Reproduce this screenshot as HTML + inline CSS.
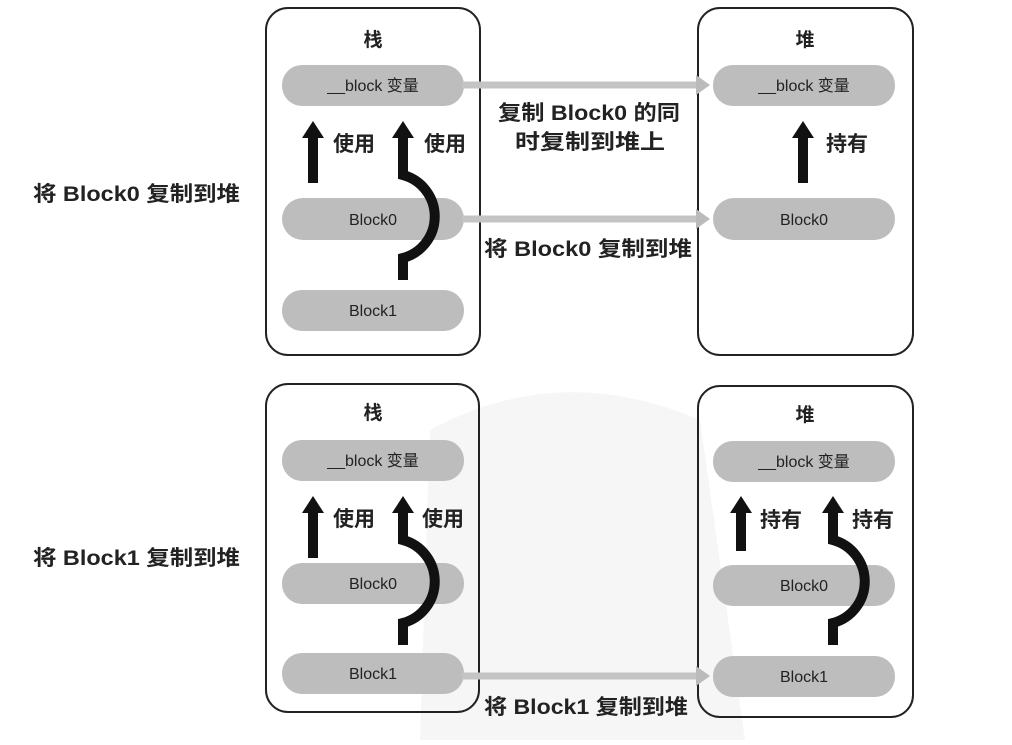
<!DOCTYPE html>
<html><head><meta charset="utf-8"><style>
body{margin:0;background:#fff}
svg text{font-family:"Liberation Sans","Noto Sans CJK SC",sans-serif;fill:#222}
</style></head><body>
<svg width="1012" height="740" viewBox="0 0 1012 740" xmlns="http://www.w3.org/2000/svg">
<defs>
<marker id="g" markerUnits="userSpaceOnUse" markerWidth="16" markerHeight="20" refX="2" refY="10" orient="auto"><path d="M0,0 L14,10 L0,20z" fill="#bbb"/></marker>
</defs>
<path d="M430,430 Q560,360 700,420 L745,740 L420,740 Z" fill="#f6f6f6"/>
<g fill="none" stroke="#222" stroke-width="2">
<rect x="266" y="8" width="214" height="347" rx="22"/>
<rect x="698" y="8" width="215" height="347" rx="22"/>
<rect x="266" y="384" width="213" height="328" rx="22"/>
<rect x="698" y="386" width="215" height="331" rx="22"/>
</g>
<g fill="#bdbdbd">
<rect x="282" y="65" width="182" height="41" rx="20"/>
<rect x="282" y="198" width="182" height="42" rx="21"/>
<rect x="282" y="290" width="182" height="41" rx="20"/>
<rect x="713" y="65" width="182" height="41" rx="20"/>
<rect x="713" y="198" width="182" height="42" rx="21"/>
<rect x="282" y="440" width="182" height="41" rx="20"/>
<rect x="282" y="563" width="182" height="41" rx="20"/>
<rect x="282" y="653" width="182" height="41" rx="20"/>
<rect x="713" y="441" width="182" height="41" rx="20"/>
<rect x="713" y="565" width="182" height="41" rx="20"/>
<rect x="713" y="656" width="182" height="41" rx="20"/>
</g>
<g stroke="#c4c4c4" stroke-width="7" fill="none" marker-end="url(#g)">
<line x1="462" y1="85" x2="698" y2="85"/>
<line x1="462" y1="219" x2="698" y2="219"/>
<line x1="462" y1="676" x2="698" y2="676"/>
</g>
<g font-size="16" text-anchor="middle" fill="#333">
<text x="373" y="91">__block 变量</text><text x="373" y="225">Block0</text><text x="373" y="316">Block1</text>
<text x="804" y="91">__block 变量</text><text x="804" y="225">Block0</text>
<text x="373" y="466">__block 变量</text><text x="373" y="589">Block0</text><text x="373" y="679">Block1</text>
<text x="804" y="467">__block 变量</text><text x="804" y="591">Block0</text><text x="804" y="682">Block1</text>
</g>
<g font-size="19" font-weight="bold" text-anchor="middle">
<text x="373" y="46">栈</text><text x="805" y="46">堆</text>
<text x="373" y="419">栈</text><text x="805" y="421">堆</text>
</g>
<g font-size="21" font-weight="bold">
<text x="333" y="151">使用</text><text x="424" y="151">使用</text>
<text x="333" y="526">使用</text><text x="422" y="526">使用</text>
<text x="826" y="151">持有</text>
<text x="760" y="527">持有</text><text x="852" y="527">持有</text>
<text x="498" y="120" textLength="182" lengthAdjust="spacingAndGlyphs">复制 Block0 的同</text>
<text x="515" y="149" textLength="150" lengthAdjust="spacingAndGlyphs">时复制到堆上</text>
<text x="484" y="256" textLength="208" lengthAdjust="spacingAndGlyphs">将 Block0 复制到堆</text>
<text x="484" y="714" textLength="204" lengthAdjust="spacingAndGlyphs">将 Block1 复制到堆</text>
<text x="33" y="201" textLength="207" lengthAdjust="spacingAndGlyphs">将 Block0 复制到堆</text>
<text x="33" y="565" textLength="207" lengthAdjust="spacingAndGlyphs">将 Block1 复制到堆</text>
</g>
<g fill="#111">
<path d="M308,183 V138 H302 L313,121 L324,138 H318 V183Z"/>
<path d="M308,558 V513 H302 L313,496 L324,513 H318 V558Z"/>
<path d="M798,183 V138 H792 L803,121 L814,138 H808 V183Z"/>
<path d="M736,551 V513 H730 L741,496 L752,513 H746 V551Z"/>
</g>
<g fill="none" stroke="#111" stroke-width="10">
<path d="M403,134 V175 A43,43 0 0 1 403,258 V280"/>
<path d="M403,509 V540 A43,43 0 0 1 403,623 V645"/>
<path d="M833,509 V540 A43,43 0 0 1 833,623 V645"/>
</g>
<g fill="#111">
<path d="M392,138 L403,121 L414,138Z"/>
<path d="M392,513 L403,496 L414,513Z"/>
<path d="M822,513 L833,496 L844,513Z"/>
</g>
</svg>
</body></html>
